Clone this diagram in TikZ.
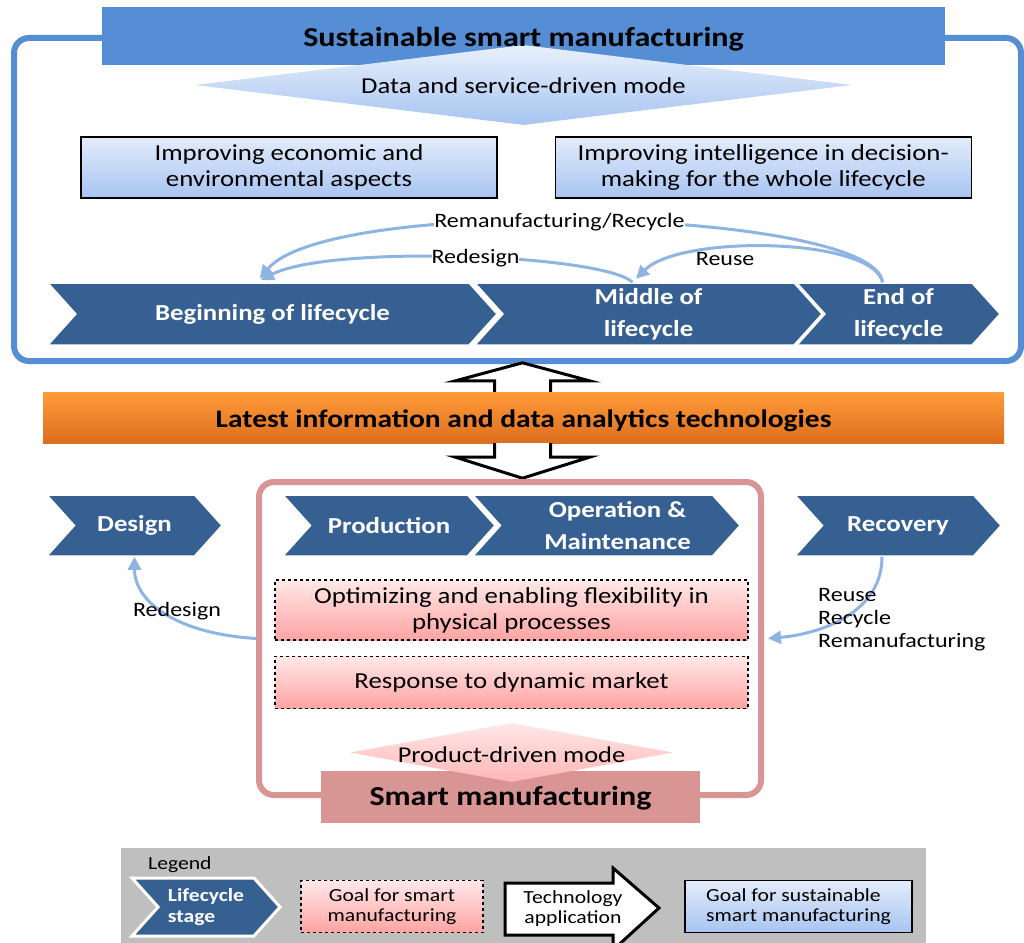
\documentclass[tikz,border=0pt]{standalone}
\usepackage{fontspec}
\setmainfont{Carlito}[FakeStretch=1.17]
\usetikzlibrary{arrows.meta,positioning,shapes.geometric,shapes.symbols}
\definecolor{frameblue}{HTML}{558ED5}
\definecolor{stageblue}{HTML}{376092}
\definecolor{goalbluetop}{HTML}{E3ECFB}
\definecolor{goalbluebot}{HTML}{A7C4F1}
\definecolor{techtop}{HTML}{FF9B3A}
\definecolor{techbot}{HTML}{DC6E1E}
\definecolor{smartpink}{HTML}{D99594}
\definecolor{goalpinktop}{HTML}{FFE8E8}
\definecolor{goalpinkbot}{HTML}{FFA3A3}
\definecolor{feedbackblue}{HTML}{8DB4E2}
\definecolor{legendgray}{HTML}{BFBFBF}

\begin{document}
\begin{tikzpicture}[
  x=1pt, y=-1pt,
  bigframe/.style={rounded corners=15pt, line width=6pt, inner sep=0pt},
  bar/.style={inner sep=0pt, font=\bfseries\fontsize{27.4}{32}\selectfont},
  mode/.style={diamond, inner sep=0pt, font=\fontsize{22.8}{26}\selectfont},
  goal/.style={draw=black, line width=1.2pt, align=center, inner sep=0pt,
    top color=goalbluetop, bottom color=goalbluebot,
    font=\fontsize{22.9}{26}\selectfont},
  smartgoal/.style={goal, dashed, top color=goalpinktop, bottom color=goalpinkbot},
  stage/.style={signal, signal to=east, signal from=west, signal pointer angle=96,
    fill=stageblue, draw=white, line width=1.5pt, text=white, align=center,
    inner sep=0pt, font=\bfseries\fontsize{22.9}{32}\selectfont},
  feedback/.style={feedbackblue, line width=3pt, -{Triangle[length=13pt, width=13pt]}},
  fblabel/.style={text=black, font=\fontsize{20.5}{23}\selectfont, inner sep=0pt},
  blockarrow/.style={draw=black, fill=white, line width=3pt, line join=miter},
  legendtext/.style={font=\fontsize{18.5}{20}\selectfont}
]
  \useasboundingbox (0,0) rectangle (1024,942);

  % sustainable smart manufacturing (upper part)
  \node[bigframe, draw=frameblue, minimum width=1007pt, minimum height=323pt]
    (sustframe) at (517.5,199.5) {};
  \node[bar, fill=frameblue, minimum width=843pt, minimum height=58pt]
    (sustbar) at (523.5,36) {};
  \node[mode, minimum width=657pt, minimum height=80pt,
    top color=goalbluetop!80, bottom color=goalbluebot] (sustmode) at (523.5,85) {};
  \node[bar, anchor=base] at ([yshift=-11pt]sustbar.center) {Sustainable smart manufacturing};
  \node[mode, anchor=base] at ([yshift=-8pt]sustmode.center) {Data and service-driven mode};

  \node[goal, minimum width=416pt, minimum height=61pt] (econ) at (289,167.5)
    {Improving economic and\\environmental aspects};
  \node[goal, minimum width=416pt, minimum height=61pt, right=57pt of econ] (intel)
    {Improving intelligence in decision-\\making for the whole lifecycle};

  \node[stage, minimum width=449pt, minimum height=62pt] (bol) at (272.5,314)
    {Beginning of lifecycle};
  \node[stage, minimum width=347pt, minimum height=62pt] (mol) at (648.5,314)
    {Middle of\\lifecycle};
  \node[stage, minimum width=203pt, minimum height=62pt] (eol) at (898.5,314)
    {End of\\lifecycle};

  \draw[feedback, shorten >=5pt] ([xshift=-16pt]eol.north)
    .. controls +(-7,-73) and +(74,-88) .. ([xshift=-16pt]bol.north)
    node[fblabel, fill=white, pos=0.54] {Remanufacturing/Recycle};
  \draw[feedback, shorten >=5pt] ([xshift=-16pt]mol.north)
    .. controls +(-30,-28) and +(74,-38) .. ([xshift=-16pt]bol.north)
    node[fblabel, fill=white, pos=0.47] {Redesign};
  \draw[feedback, shorten >=5pt] ([xshift=-16pt]eol.north)
    .. controls +(-10,-45) and +(48,-48) .. ([xshift=-16pt]mol.north)
    node[fblabel, pos=0.64, below=1pt] {Reuse};

  % technologies in between
  \node[bar, minimum width=961pt, minimum height=51pt, top color=techtop,
    bottom color=techbot] (tech) at (523.5,417.5) {};
  \node[bar, font=\bfseries\fontsize{25.2}{28}\selectfont, anchor=base]
    at ([yshift=-10pt]tech.center) {Latest information and data analytics technologies};
  \draw[blockarrow] ([xshift=-29pt]tech.north) -- ++(0,-11) -- ++(-39,0)
    -- ++(67,-18) -- ++(67,18) -- ++(-39,0) -- ++(0,11);
  \draw[blockarrow] ([xshift=-29pt]tech.south) -- ++(0,14) -- ++(-39,0)
    -- ++(67,21) -- ++(67,-21) -- ++(-39,0) -- ++(0,-14);

  % smart manufacturing (lower part)
  \node[bigframe, draw=smartpink, minimum width=502pt, minimum height=313pt]
    (smartframe) at (510,638.5) {};

  \node[stage, minimum width=175pt, minimum height=61pt] (design) at (134.5,525.5)
    {Design};
  \node[stage, minimum width=212pt, minimum height=61pt] (production) at (389,525.5)
    {Production};
  \node[stage, minimum width=267pt, minimum height=61pt] (operation) at (606.5,525.5)
    {\hspace*{22pt}Operation \&\\\hspace*{22pt}Maintenance};
  \node[stage, minimum width=206pt, minimum height=61pt] (recovery) at (898,525.5)
    {Recovery};

  \node[smartgoal, minimum width=473pt, minimum height=60pt] (flex) at (511.5,610)
    {Optimizing and enabling flexibility in\\physical processes};
  \node[smartgoal, minimum width=473pt, minimum height=52pt, below=15pt of flex]
    (market) {Response to dynamic market};

  \draw[feedback] (smartframe.west)
    .. controls +(-80,-5) and +(0,45) .. (design.south)
    node[fblabel, pos=0.47, xshift=8pt, yshift=4pt] {Redesign};
  \draw[feedback] ([xshift=-16pt]recovery.south)
    .. controls +(0,55) and +(55,-5) .. ([xshift=4pt]smartframe.east);
  \node[fblabel, align=left, anchor=west] (recoverylabel) at (818,620)
    {Reuse\\Recycle\\Remanufacturing};

  \node[bar, fill=smartpink, minimum width=379pt, minimum height=52pt]
    (smartbar) at (510.5,797) {};
  \node[mode, minimum width=323pt, minimum height=59pt,
    top color=goalpinktop, bottom color=goalpinkbot!80] (smartmode) at (511.5,752.5) {};
  \node[mode, font=\fontsize{22.6}{25}\selectfont, anchor=base]
    at ([yshift=-10pt]smartmode.center) {Product-driven mode};
  \node[bar, anchor=base] at ([yshift=-8pt]smartbar.center) {Smart manufacturing};

  % legend
  \node[fill=legendgray, minimum width=805pt, minimum height=100pt, inner sep=0pt,
    anchor=north west] (legend) at (121,848) {};
  \node[legendtext, anchor=west, inner sep=0pt] at (148,865) {Legend};
  \node[stage, minimum width=148pt, minimum height=58pt, line width=3pt,
    align=left, font=\bfseries\fontsize{18.5}{21}\selectfont] (lgstage) at (206,907)
    {Lifecycle\\stage};
  \node[smartgoal, legendtext, minimum width=182pt, minimum height=52pt]
    (lgsmart) at (392,906.5) {Goal for smart\\manufacturing};
  \draw[blockarrow] (505,883) -- (613,883) -- (613,868) -- (659,908) -- (613,950)
    -- (613,935) -- (505,935) -- cycle;
  \node[legendtext, align=center] (lgtech) at (573,909) {Technology\\application};
  \node[goal, legendtext, align=left, minimum width=227pt, minimum height=52pt,
    line width=1.5pt] (lgsust) at (798.5,906.5) {Goal for sustainable\\smart manufacturing};
\end{tikzpicture}
\end{document}
